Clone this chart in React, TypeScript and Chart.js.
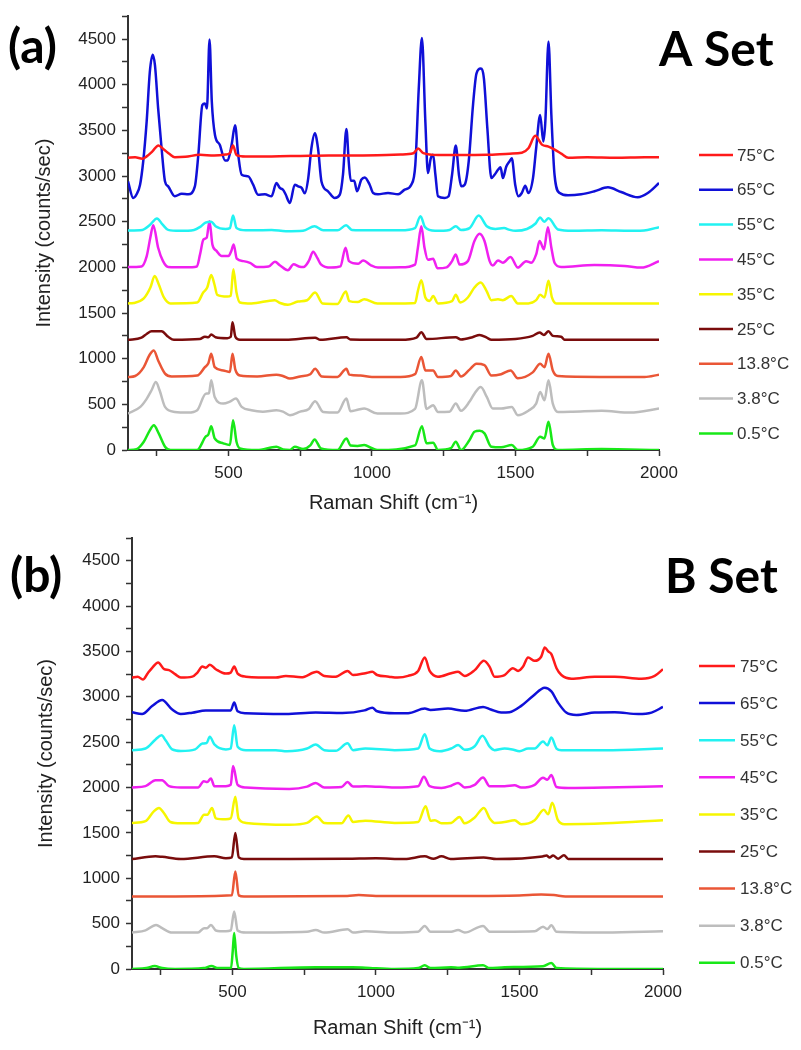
import React, { useEffect, useRef } from 'react';
import { Chart, registerables } from 'chart.js';

Chart.register(...registerables);

// ---------- data ----------
const TEMPS = ['75°C', '65°C', '55°C', '45°C', '35°C', '25°C', '13.8°C', '3.8°C', '0.5°C'];
const COLORS = ['#ff1a1a', '#1010d8', '#22f2f2', '#f020f0', '#f6f600', '#7a0c0c', '#ea5636', '#bdbdbd', '#18e818'];

const X_MAJOR = [500, 1000, 1500, 2000];
const X_MINOR = [250, 750, 1250, 1750];
const Y_MAJOR = [0, 500, 1000, 1500, 2000, 2500, 3000, 3500, 4000, 4500];
const Y_MINOR = [250, 750, 1250, 1750, 2250, 2750, 3250, 3750, 4250, 4750];
const X_RANGE = [150, 2000];
const Y_RANGE = [0, 4750];

// ----- A set -----
const A_75 = [[150,3200],[175,3205],[200,3190],[215,3215],[235,3270],[256,3335],[275,3290],[295,3240],[313,3205],[350,3210],[400,3232],[450,3225],[490,3235],[505,3250],[516,3335],[528,3230],[560,3215],[650,3215],[750,3220],[850,3225],[950,3225],[1050,3230],[1100,3235],[1144,3249],[1161,3300],[1179,3250],[1230,3230],[1300,3230],[1400,3232],[1480,3245],[1522,3255],[1545,3305],[1569,3440],[1592,3344],[1615,3322],[1638,3286],[1661,3242],[1684,3200],[1750,3205],[1850,3200],[1950,3205],[2000,3205]];
const A_65 = [[150,2941],[168,2760],[180,2800],[192,2905],[203,3159],[215,3595],[226,4139],[236,4328],[244,4212],[255,3740],[267,3304],[279,2941],[290,2887],[313,2778],[337,2807],[360,2800],[383,2887],[395,3232],[409,3776],[418,3794],[425,3740],[434,4495],[442,3813],[453,3450],[470,3341],[488,3170],[497,3170],[511,3341],[523,3555],[534,3232],[546,3014],[569,2996],[586,2905],[603,2796],[627,2800],[650,2778],[667,2923],[679,2869],[690,2850],[699,2800],[714,2705],[731,2905],[743,2887],[755,2870],[766,2810],[778,2977],[789,3304],[801,3467],[812,3304],[824,2941],[847,2833],[870,2760],[888,2796],[899,3014],[911,3515],[919,3159],[926,2949],[938,2949],[948,2833],[963,2960],[975,2985],[992,2905],[1004,2814],[1021,2800],[1056,2814],[1091,2800],[1114,2851],[1137,2905],[1151,3123],[1163,3958],[1174,4510],[1186,3595],[1195,3032],[1205,3195],[1213,3232],[1221,3014],[1230,2778],[1253,2760],[1267,2778],[1279,3014],[1292,3333],[1303,3014],[1311,2887],[1323,2905],[1337,3159],[1352,3777],[1364,4121],[1379,4176],[1390,4067],[1402,3522],[1416,2977],[1427,3014],[1439,3068],[1448,3097],[1456,2977],[1468,3104],[1479,3159],[1487,3195],[1499,2905],[1510,2778],[1522,2814],[1534,2894],[1545,2814],[1561,2977],[1572,3304],[1586,3668],[1597,3377],[1604,3595],[1615,4474],[1625,3668],[1636,3014],[1654,2814],[1683,2789],[1729,2800],[1775,2833],[1822,2876],[1868,2825],[1926,2767],[1961,2814],[2000,2923]];
const A_55 = [[150,2404],[200,2410],[225,2460],[251,2535],[270,2470],[290,2410],[330,2400],[380,2410],[400,2440],[420,2490],[440,2500],[455,2450],[490,2420],[505,2430],[516,2567],[528,2430],[560,2405],[650,2410],[700,2395],[760,2400],[800,2450],[830,2405],[880,2405],[910,2460],[930,2410],[1000,2405],[1100,2405],[1150,2430],[1169,2560],[1185,2440],[1220,2400],[1270,2410],[1292,2450],[1310,2410],[1340,2430],[1372,2567],[1400,2450],[1430,2420],[1460,2430],[1480,2410],[1500,2400],[1540,2420],[1570,2480],[1586,2546],[1600,2500],[1615,2538],[1648,2415],[1700,2400],[1800,2405],[1900,2400],[1960,2410],[2000,2440]];
const A_45 = [[150,2004],[197,2010],[215,2120],[228,2330],[238,2462],[255,2215],[272,2068],[290,2004],[350,2000],[390,2010],[401,2142],[413,2306],[424,2324],[434,2505],[444,2251],[459,2178],[476,2124],[500,2124],[510,2180],[518,2251],[529,2095],[552,2068],[575,2050],[599,2004],[640,2010],[662,2060],[680,2020],[707,1968],[727,2033],[745,2010],[762,2004],[780,2070],[795,2171],[810,2100],[822,2033],[857,1997],[890,2010],[908,2215],[920,2068],[952,2040],[969,2076],[998,2020],[1021,1997],[1100,2000],[1150,2030],[1160,2215],[1172,2451],[1183,2215],[1195,2083],[1213,2095],[1228,1990],[1260,2000],[1279,2068],[1292,2142],[1305,2030],[1334,2068],[1357,2288],[1375,2367],[1392,2288],[1410,2068],[1421,2020],[1439,2076],[1456,2050],[1483,2113],[1508,1997],[1537,2068],[1555,2050],[1572,2142],[1584,2288],[1599,2197],[1613,2440],[1625,2215],[1636,2050],[1659,2004],[1775,2025],[1880,2015],[1938,1997],[2000,2068]];
const A_35 = [[150,1605],[170,1610],[205,1660],[228,1779],[243,1906],[257,1815],[275,1670],[298,1605],[391,1615],[412,1724],[426,1779],[440,1917],[451,1815],[461,1699],[496,1681],[508,1690],[517,1979],[528,1724],[540,1616],[580,1605],[661,1641],[680,1610],[707,1590],[742,1625],[774,1640],[802,1725],[828,1605],[880,1600],[909,1735],[921,1630],[950,1620],[973,1652],[1019,1605],[1100,1605],[1150,1610],[1160,1743],[1172,1859],[1186,1670],[1201,1632],[1213,1685],[1230,1605],[1279,1630],[1292,1699],[1307,1616],[1334,1670],[1357,1779],[1379,1834],[1399,1743],[1416,1641],[1439,1650],[1456,1641],[1485,1685],[1508,1605],[1545,1605],[1572,1641],[1586,1699],[1601,1670],[1615,1852],[1627,1670],[1642,1605],[1800,1605],[2000,1605]];
const A_25 = [[150,1206],[197,1230],[215,1270],[232,1299],[267,1299],[290,1240],[310,1206],[400,1215],[418,1240],[430,1235],[440,1264],[455,1235],[496,1225],[508,1240],[514,1398],[524,1240],[540,1206],[700,1206],[802,1230],[820,1206],[911,1235],[925,1210],[1100,1206],[1155,1230],[1172,1289],[1190,1215],[1292,1235],[1310,1210],[1350,1235],[1375,1260],[1400,1230],[1416,1206],[1500,1215],[1560,1250],[1584,1286],[1599,1260],[1615,1300],[1630,1250],[1659,1240],[1671,1206],[1800,1206],[2000,1206]];
const A_13_8 = [[150,799],[175,810],[205,907],[225,1040],[240,1089],[255,980],[279,836],[302,805],[391,815],[418,907],[430,950],[440,1053],[452,907],[482,871],[505,855],[514,1053],[524,880],[540,815],[600,805],[667,825],[690,810],[714,782],[750,805],[785,830],[802,890],[825,805],[880,800],[911,890],[921,825],[960,815],[1000,800],[1100,800],[1150,830],[1172,1017],[1186,871],[1213,871],[1230,799],[1275,810],[1292,871],[1310,805],[1340,880],[1364,944],[1392,930],[1416,815],[1450,830],[1483,871],[1508,785],[1560,850],[1586,944],[1601,907],[1615,1053],[1630,871],[1648,810],[1800,800],[1950,799],[2000,825]];
const A_3_8 = [[150,399],[193,472],[215,560],[232,654],[247,744],[260,654],[279,472],[313,417],[360,410],[391,435],[421,617],[432,620],[440,763],[452,581],[482,508],[505,530],[526,563],[546,472],[580,435],[620,420],[667,436],[690,420],[714,381],[750,420],[780,450],[802,534],[830,417],[880,410],[911,563],[925,425],[950,440],[973,454],[1019,399],[1100,400],[1150,450],[1174,763],[1190,450],[1213,490],[1230,417],[1270,420],[1292,508],[1310,430],[1340,530],[1357,617],[1379,690],[1400,581],[1421,454],[1450,454],[1487,472],[1508,381],[1545,430],[1572,508],[1586,635],[1601,545],[1615,763],[1630,508],[1648,417],[1700,420],[1800,430],[1900,410],[2000,454]];
const A_0_5 = [[150,0],[180,10],[205,91],[225,210],[240,272],[257,182],[279,36],[298,0],[391,0],[420,145],[430,170],[440,261],[452,127],[482,73],[505,55],[516,327],[528,91],[540,18],[600,0],[667,36],[690,5],[714,0],[731,36],[760,10],[785,50],[800,116],[822,18],[880,0],[911,127],[925,50],[950,45],[973,55],[1000,20],[1019,0],[1150,50],[1174,261],[1190,73],[1213,80],[1230,0],[1275,20],[1292,91],[1310,0],[1340,110],[1357,200],[1375,210],[1392,182],[1416,36],[1450,30],[1487,55],[1508,0],[1560,36],[1586,145],[1601,127],[1615,309],[1630,55],[1648,0],[1800,10],[2000,0]];

// ----- B set -----
const B_75 = [[150,3212],[170,3222],[188,3190],[205,3260],[221,3322],[241,3378],[262,3304],[279,3294],[300,3250],[320,3212],[360,3222],[378,3267],[395,3334],[407,3320],[421,3353],[442,3304],[477,3256],[494,3267],[506,3334],[518,3256],[547,3222],[651,3212],[686,3230],[740,3215],[794,3275],[820,3230],[860,3222],[901,3285],[920,3240],[963,3260],[987,3275],[1004,3240],[1045,3222],[1075,3212],[1112,3230],[1147,3285],[1170,3433],[1187,3285],[1216,3222],[1262,3260],[1286,3275],[1309,3230],[1344,3294],[1376,3396],[1396,3330],[1413,3222],[1448,3240],[1477,3315],[1495,3285],[1512,3330],[1530,3433],[1553,3396],[1576,3444],[1588,3544],[1600,3500],[1611,3470],[1629,3315],[1646,3240],[1681,3200],[1762,3222],[1832,3222],[1925,3200],[1971,3230],[2000,3304]];
const B_65 = [[150,2830],[185,2810],[220,2898],[255,2965],[290,2860],[320,2810],[360,2825],[407,2850],[477,2850],[494,2850],[506,2936],[518,2840],[547,2818],[686,2810],[790,2828],[883,2822],[960,2850],[987,2880],[1004,2840],[1065,2818],[1112,2818],[1170,2870],[1190,2855],[1251,2870],[1309,2845],[1373,2888],[1400,2860],[1436,2826],[1465,2830],[1506,2900],[1547,3009],[1588,3101],[1611,3060],[1634,2937],[1663,2826],[1698,2800],[1762,2826],[1832,2830],[1914,2810],[1960,2826],[2000,2888]];
const B_55 = [[150,2412],[197,2430],[232,2530],[253,2575],[267,2520],[290,2420],[320,2402],[370,2420],[395,2485],[410,2490],[421,2560],[437,2475],[477,2420],[494,2430],[506,2685],[518,2450],[547,2412],[651,2412],[690,2400],[760,2430],[790,2475],[820,2412],[860,2405],[901,2487],[920,2412],[963,2430],[1065,2412],[1147,2430],[1170,2586],[1187,2430],[1222,2400],[1262,2430],[1286,2468],[1309,2415],[1344,2455],[1371,2570],[1396,2450],[1413,2412],[1448,2430],[1475,2420],[1500,2400],[1530,2430],[1553,2430],[1582,2508],[1597,2465],[1611,2550],[1629,2430],[1646,2412],[1800,2412],[2000,2430]];
const B_45 = [[150,2000],[197,2015],[232,2081],[255,2081],[279,2015],[320,2000],[380,2000],[400,2070],[412,2060],[425,2100],[437,2015],[477,2015],[494,2030],[502,2236],[518,2030],[547,2000],[698,1985],[760,2010],[790,2051],[820,2000],[880,2005],[901,2060],[920,2010],[963,2015],[1065,2000],[1147,2015],[1167,2118],[1187,2015],[1228,1995],[1262,2020],[1286,2051],[1309,2000],[1344,2030],[1373,2110],[1396,2015],[1448,2015],[1483,2025],[1506,2000],[1553,2030],[1582,2108],[1597,2085],[1611,2137],[1629,2005],[1670,1995],[1800,2000],[2000,2015]];
const B_35 = [[150,1610],[197,1630],[226,1738],[244,1775],[261,1720],[284,1620],[320,1605],[380,1610],[401,1700],[413,1700],[429,1775],[442,1660],[477,1650],[494,1660],[510,1897],[521,1660],[547,1610],[698,1590],[760,1610],[794,1682],[820,1610],[880,1605],[904,1693],[920,1620],[963,1635],[1065,1610],[1147,1620],[1173,1793],[1190,1635],[1205,1640],[1228,1605],[1262,1610],[1291,1676],[1309,1605],[1344,1670],[1376,1775],[1396,1660],[1413,1610],[1448,1620],[1483,1640],[1506,1595],[1553,1640],[1585,1754],[1600,1705],[1614,1831],[1634,1640],[1657,1595],[1800,1605],[2000,1640]];
const B_25 = [[150,1212],[232,1242],[255,1236],[320,1212],[437,1242],[477,1220],[498,1230],[510,1499],[522,1230],[540,1212],[700,1212],[900,1215],[1000,1220],[1100,1212],[1170,1242],[1200,1215],[1228,1242],[1260,1212],[1375,1230],[1420,1212],[1580,1240],[1594,1250],[1605,1230],[1617,1250],[1635,1215],[1655,1255],[1670,1212],[2000,1212]];
const B_13_8 = [[150,800],[300,800],[498,812],[510,1075],[522,812],[540,800],[900,805],[940,815],[1000,805],[1300,805],[1500,810],[1576,820],[1620,815],[1660,800],[2000,800]];
const B_3_8 = [[150,401],[197,425],[234,486],[255,450],[290,401],[380,401],[401,450],[412,450],[425,486],[442,425],[477,415],[494,425],[506,633],[518,425],[547,401],[760,410],[790,430],[820,401],[901,438],[920,401],[963,415],[1065,401],[1147,410],[1170,475],[1190,410],[1262,410],[1286,430],[1309,401],[1373,475],[1396,410],[1448,410],[1553,415],[1582,467],[1597,440],[1611,482],[1629,410],[1800,401],[2000,415]];
const B_0_5 = [[150,0],[200,10],[229,33],[255,10],[300,0],[400,10],[427,33],[450,10],[495,10],[501,200],[506,398],[513,150],[522,10],[540,0],[790,20],[918,20],[963,15],[1065,0],[1147,10],[1170,40],[1190,10],[1262,20],[1290,15],[1373,40],[1396,10],[1448,20],[1582,30],[1611,66],[1629,10],[1800,0],[2000,0]];

const SERIES_A = [A_75, A_65, A_55, A_45, A_35, A_25, A_13_8, A_3_8, A_0_5];
const SERIES_B = [B_75, B_65, B_55, B_45, B_35, B_25, B_13_8, B_3_8, B_0_5];

// ---------- presentation ----------
const FONT = "'Liberation Sans', Arial, sans-serif";
const BOLD_FONT = "Lato, 'Open Sans', sans-serif";

type PanelCfg = {
  top: number; height: number;
  axisW: number; axisH: number; padTop: number; padRight: number;
  yTitlePad: number; xTitlePad: number;
  legendY0: number; legendStep: number; legendX0: number; legendX1: number; legendTextX: number;
  tag: string; tagX: number; tagY: number; setName: string; setX: number; setY: number;
};

const PANEL_A: PanelCfg = {
  top: 0, height: 520, axisW: 128, axisH: 70, padTop: 13, padRight: 142,
  yTitlePad: 32, xTitlePad: 5,
  legendY0: 155, legendStep: 34.8, legendX0: 699, legendX1: 733, legendTextX: 737,
  tag: '(a)', tagX: 8, tagY: 63, setName: 'A Set', setX: 659, setY: 66,
};
const PANEL_B: PanelCfg = {
  top: 520, height: 530, axisW: 132, axisH: 81, padTop: 18, padRight: 138,
  yTitlePad: 34, xTitlePad: 10,
  legendY0: 146, legendStep: 37.1, legendX0: 699, legendX1: 735, legendTextX: 740,
  tag: '(b)', tagX: 10, tagY: 72, setName: 'B Set', setX: 665, setY: 73,
};

function buildChart(canvas: HTMLCanvasElement, series: number[][][], cfg: PanelCfg) {
  const overlay = {
    id: 'overlay',
    afterDraw(chart: any) {
      const ctx = chart.ctx;
      ctx.save();
      chart.data.datasets.forEach((ds: any, i: number) => {
        const y = cfg.legendY0 + i * cfg.legendStep;
        ctx.strokeStyle = ds.borderColor;
        ctx.lineWidth = 2.5;
        ctx.beginPath();
        ctx.moveTo(cfg.legendX0, y);
        ctx.lineTo(cfg.legendX1, y);
        ctx.stroke();
        ctx.fillStyle = '#333';
        ctx.font = `17px ${FONT}`;
        ctx.textBaseline = 'middle';
        ctx.textAlign = 'left';
        ctx.fillText(ds.label, cfg.legendTextX, y + 1);
      });
      ctx.fillStyle = '#000';
      ctx.font = `bold 48px ${BOLD_FONT}`;
      ctx.textBaseline = 'alphabetic';
      ctx.fillText(cfg.tag, cfg.tagX, cfg.tagY);
      ctx.fillText(cfg.setName, cfg.setX, cfg.setY);
      ctx.restore();
    },
  };

  return new Chart(canvas, {
    type: 'line',
    data: {
      datasets: series.map((s, i) => ({
        label: TEMPS[i],
        data: s.map(([x, y]) => ({ x, y })),
        borderColor: COLORS[i],
        backgroundColor: COLORS[i],
        borderWidth: 2.5,
        pointRadius: 0,
        fill: false,
        cubicInterpolationMode: 'monotone' as const,
      })),
    },
    options: {
      responsive: false,
      animation: false,
      events: [],
      layout: { padding: { left: 0, right: cfg.padRight, top: cfg.padTop, bottom: 0 } },
      plugins: { legend: { display: false }, tooltip: { enabled: false } },
      scales: {
        x: {
          type: 'linear',
          min: X_RANGE[0],
          max: X_RANGE[1],
          afterBuildTicks: (scale: any) => {
            scale.ticks = [...X_MINOR, ...X_MAJOR].sort((a, b) => a - b).map((v) => ({ value: v }));
          },
          afterFit: (scale: any) => { scale.height = cfg.axisH; },
          ticks: {
            autoSkip: false, maxRotation: 0, padding: 7,
            color: '#222', font: { family: FONT, size: 17 },
            callback: (v: any) => (X_MAJOR.includes(Number(v)) ? String(v) : ''),
          },
          grid: { drawOnChartArea: false, drawTicks: true, tickLength: 6, color: '#333', tickWidth: 1.5 },
          border: { display: true, color: '#333', width: 2 },
          title: {
            display: true, text: 'Raman Shift (cm⁻¹)', color: '#222',
            font: { family: FONT, size: 20 }, padding: { top: 0, bottom: cfg.xTitlePad },
          },
        },
        y: {
          type: 'linear',
          min: Y_RANGE[0],
          max: Y_RANGE[1],
          afterBuildTicks: (scale: any) => {
            scale.ticks = [...Y_MINOR, ...Y_MAJOR].sort((a, b) => a - b).map((v) => ({ value: v }));
          },
          afterFit: (scale: any) => { scale.width = cfg.axisW; },
          ticks: {
            autoSkip: false, padding: 6,
            color: '#222', font: { family: FONT, size: 17 },
            callback: (v: any) => (Y_MAJOR.includes(Number(v)) ? String(v) : ''),
          },
          grid: { drawOnChartArea: false, drawTicks: true, tickLength: 6, color: '#333', tickWidth: 1.5 },
          border: { display: true, color: '#333', width: 2 },
          title: {
            display: true, text: 'Intensity (counts/sec)', color: '#222',
            font: { family: FONT, size: 20 }, padding: { top: cfg.yTitlePad, bottom: 0 },
          },
        },
      },
    },
    plugins: [overlay],
  } as any);
}

function Panel({ series, cfg }: { series: number[][][]; cfg: PanelCfg }) {
  const ref = useRef<HTMLCanvasElement | null>(null);
  useEffect(() => {
    if (!ref.current) return;
    const chart = buildChart(ref.current, series, cfg);
    return () => chart.destroy();
  }, [series, cfg]);
  return (
    <canvas
      ref={ref}
      width={801}
      height={cfg.height}
      style={{ position: 'absolute', left: 0, top: cfg.top, width: 801, height: cfg.height, display: 'block' }}
    />
  );
}

export default function App() {
  return (
    <div style={{ position: 'absolute', left: 0, top: 0, width: 801, height: 1050, background: '#fff', overflow: 'hidden' }}>
      <Panel series={SERIES_A} cfg={PANEL_A} />
      <Panel series={SERIES_B} cfg={PANEL_B} />
    </div>
  );
}
